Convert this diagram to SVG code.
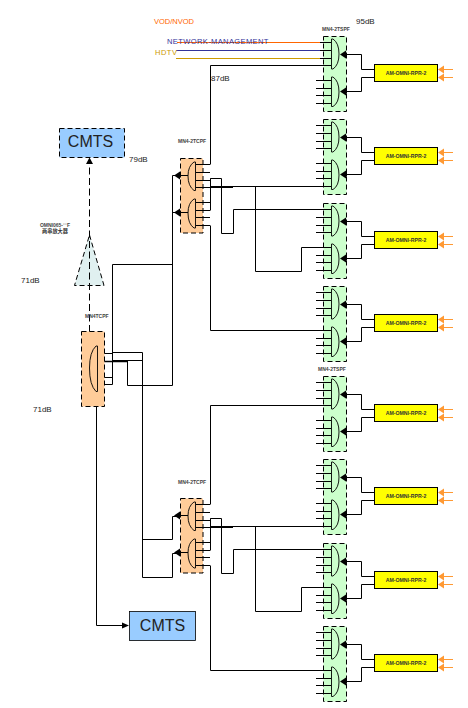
<svg xmlns="http://www.w3.org/2000/svg" width="468" height="708" viewBox="0 0 468 708">
<style>
text{font-family:"Liberation Sans",Arial,sans-serif;fill:#000}
.w{fill:none;stroke:#000;stroke-width:1}
.d{stroke:#000;stroke-width:1;stroke-dasharray:5 3}
.g{fill:none;stroke:#000;stroke-width:.9}
.db{font-size:8px;fill:#222}
.tiny{font-size:5px;font-weight:bold;fill:#444}
.amp{font-size:5.2px;font-weight:bold;text-anchor:middle;fill:#333}
.cm{font-size:16px;text-anchor:middle;fill:#222}
.or{stroke:#ff9933;stroke-width:1;fill:none}
</style>
<defs>
<g id="greenBody">
<rect x="323.500" y="36.500" width="23" height="75" fill="#ccffcc" class="d"/>
<path class="w" d="M316 42.500H331M316 50.500H331M316 58.500H331M316 65.500H331M316 80.500H331M316 88.500H331M316 95.500H331M316 103.500H331"/>
<path class="g" d="M331.500 39H333Q339 43 339 54Q339 65 333 69H331.500Z"/>
<path class="g" d="M331.500 77H333Q339 81 339 92Q339 103 333 106.500H331.500Z"/>
<path d="M340 54.500L346 50.500V52.500H347V56.500H346V58.500Z"/>
<path d="M340 91.500L346 87.500V89.500H347V93.500H346V95.500Z"/>
</g>
<g id="orangeBody">
<rect x="180.500" y="158.500" width="22.500" height="74.500" fill="#ffcc99" class="d"/>
<path class="w" d="M196 164.500H210M196 172.500H210M196 180.500H210M196 187.500H210M196 202.500H210M196 210.500H210M196 217.500H210M196 225.500H210"/>
<path class="g" d="M195.500 162H194Q188 166 188 176Q188 186 194 190.500H195.500Z"/>
<path class="g" d="M195.500 199H194Q188 203 188 213Q188 224 194 228H195.500Z"/>
<path class="w" d="M180 175.500H188M180 212.500H188"/>
<path d="M174 175.500L180 171.500V173.500H181V177.500H180V179.500Z"/>
<path d="M174 212.500L180 208.500V210.500H181V214.500H180V216.500Z"/>
</g>
<g id="ampBody">
<rect x="374.500" y="64.500" width="63" height="17" fill="#ffff00" stroke="#000" stroke-width="1"/>
<path class="or" d="M444 69.500H453M444 77.500H453"/>
<path d="M438 69.500L444 65.500V73.500ZM438 77.500L444 73.500V81.500Z" fill="#ff9933"/>
<text class="amp" x="406" y="74.500">AM-OMNI-RPR-2</text>
</g>
</defs>

<g id="connectors">
<path class="w" d="M339 54.500H361.500V69.500H375M339 91.500H361.500V77.500H375"/>
<path class="w" d="M339 137.500H361.500V152.500H375M339 174.500H361.500V160.500H375"/>
<path class="w" d="M339 221.500H361.500V236.500H375M339 258.500H361.500V244.500H375"/>
<path class="w" d="M339 304.500H361.500V319.500H375M339 341.500H361.500V327.500H375"/>
<path class="w" d="M339 394.500H361.500V409.500H375M339 431.500H361.500V417.500H375"/>
<path class="w" d="M339 477.500H361.500V492.500H375M339 514.500H361.500V500.500H375"/>
<path class="w" d="M339 561.500H361.500V576.500H375M339 598.500H361.500V584.500H375"/>
<path class="w" d="M339 644.500H361.500V659.500H375M339 681.500H361.500V667.500H375"/>
<path class="w" d="M210.500 164.500V65.500H331M210.500 180.500V178.500H221.500V233.500H233.500V209.500H331M210.500 178.500V210.500M210.500 225.500V330.500H331M233 186.500H331M255.500 186.500V271.500H301.500V247.500H331"/>
<path fill="none" stroke="#000" stroke-width="2" d="M210 187H233"/>
<path class="w" d="M210.500 504.500V405.500H331M210.500 520.500V518.500H221.500V573.500H233.500V549.500H331M210.500 518.500V550.500M210.500 565.500V670.500H331M233 526.500H331M255.500 526.500V611.500H301.500V587.500H331"/>
<path fill="none" stroke="#000" stroke-width="2" d="M210 527H233"/>
<path class="w" d="M172.500 175.500V385.500H127.500V361.500M112.500 384.500V264.500H172.500M98 353.500H112.500M98 377.500H112.500M98 384.500H112.500M112.500 352.500H142.500M112.500 360.500H142.500M142.500 352.500V577.500H172.500V553.500H178M142.500 539.500H172.500V516.500H178M172.500 175.500H175M172.500 212.500H175"/>
<path fill="none" stroke="#000" stroke-width="1.500" d="M98 361.500H128"/>
<path d="M89.500 157.500L93 164H86Z"/>
<path class="w" d="M96.500 391V625.500H122"/>
<path d="M129 625.500L122 622.500V628.500Z"/>
</g>

<g id="cmts-top">
<rect x="59.500" y="128.500" width="65" height="29" fill="#99ccff" class="d"/>
<text class="cm" x="90.500" y="147">CMTS</text>
</g>
<g id="cmts-bottom">
<rect x="129.500" y="611.500" width="66" height="29" fill="#99ccff" stroke="#000" stroke-width=".8"/>
<text class="cm" x="162.500" y="631">CMTS</text>
</g>
<g id="amplifier">
<path d="M89.500 235L104 285.500H74.500Z" fill="#e0f0f0" class="d"/>
<text x="55" y="226.500" style="font-size:5px;font-weight:bold;text-anchor:middle;fill:#444">OMNI065-⁻⁻F</text>
<text x="55" y="233" style="font-size:5.200px;font-weight:bold;text-anchor:middle;fill:#333;font-family:'Liberation Sans','Noto Sans CJK SC',sans-serif">两串放大器</text>
</g>
<g id="connectors-dashed">
<path fill="none" stroke="#000" stroke-width="1" stroke-dasharray="7 3.500" d="M89.500 332V164"/>
</g>
<g id="tap-main">
<rect x="81.500" y="331.500" width="23" height="75" fill="#ffcc99" class="d"/>
<path class="g" d="M97.500 346H96Q89.500 352 89.500 368Q89.500 385 96 391.500H97.500Z"/>
<text class="tiny" x="85" y="318">MN4TCPF</text>
</g>
<g id="tap-upper"><use href="#orangeBody"/><text class="tiny" x="178" y="143">MN4-2TCPF</text></g>
<g id="tap-lower"><use href="#orangeBody" transform="translate(0,340)"/><text class="tiny" x="178" y="484">MN4-2TCPF</text></g>

<g id="split-1"><use href="#greenBody"/><text class="tiny" x="322" y="31">MN4-2TSPF</text></g>
<g id="split-2"><use href="#greenBody" transform="translate(0,83)"/></g>
<g id="split-3"><use href="#greenBody" transform="translate(0,167)"/></g>
<g id="split-4"><use href="#greenBody" transform="translate(0,250)"/></g>
<g id="split-5"><use href="#greenBody" transform="translate(0,340)"/><text class="tiny" x="318" y="371">MN4-2TSPF</text></g>
<g id="split-6"><use href="#greenBody" transform="translate(0,423)"/></g>
<g id="split-7"><use href="#greenBody" transform="translate(0,507)"/></g>
<g id="split-8"><use href="#greenBody" transform="translate(0,590)"/></g>

<g id="connectors-feeds">
<path stroke="#ff6600" stroke-width="1" fill="none" d="M177 42.500H320"/>
<path stroke="#333399" stroke-width="1" fill="none" d="M176 50.500H320"/>
<path stroke="#cc9900" stroke-width="1" fill="none" d="M176 58.500H320"/>
</g>

<g id="amp-1"><use href="#ampBody"/></g>
<g id="amp-2"><use href="#ampBody" transform="translate(0,83)"/></g>
<g id="amp-3"><use href="#ampBody" transform="translate(0,167)"/></g>
<g id="amp-4"><use href="#ampBody" transform="translate(0,250)"/></g>
<g id="amp-5"><use href="#ampBody" transform="translate(0,340)"/></g>
<g id="amp-6"><use href="#ampBody" transform="translate(0,423)"/></g>
<g id="amp-7"><use href="#ampBody" transform="translate(0,507)"/></g>
<g id="amp-8"><use href="#ampBody" transform="translate(0,590)"/></g>

<g id="labels">
<text x="154" y="24" style="font-size:7.500px;fill:#ff6600">VOD/NVOD</text>
<text x="167" y="44" style="font-size:7.500px;letter-spacing:.4px;fill:#333399">NETWORK-MANAGEMENT</text>
<text x="155" y="55" style="font-size:7.500px;letter-spacing:.5px;fill:#cc9900">HDTV</text>
<text class="db" x="356" y="24">95dB</text>
<text class="db" x="211" y="81">87dB</text>
<text class="db" x="129" y="162">79dB</text>
<text class="db" x="21" y="283">71dB</text>
<text class="db" x="33" y="412">71dB</text>
</g>
</svg>
